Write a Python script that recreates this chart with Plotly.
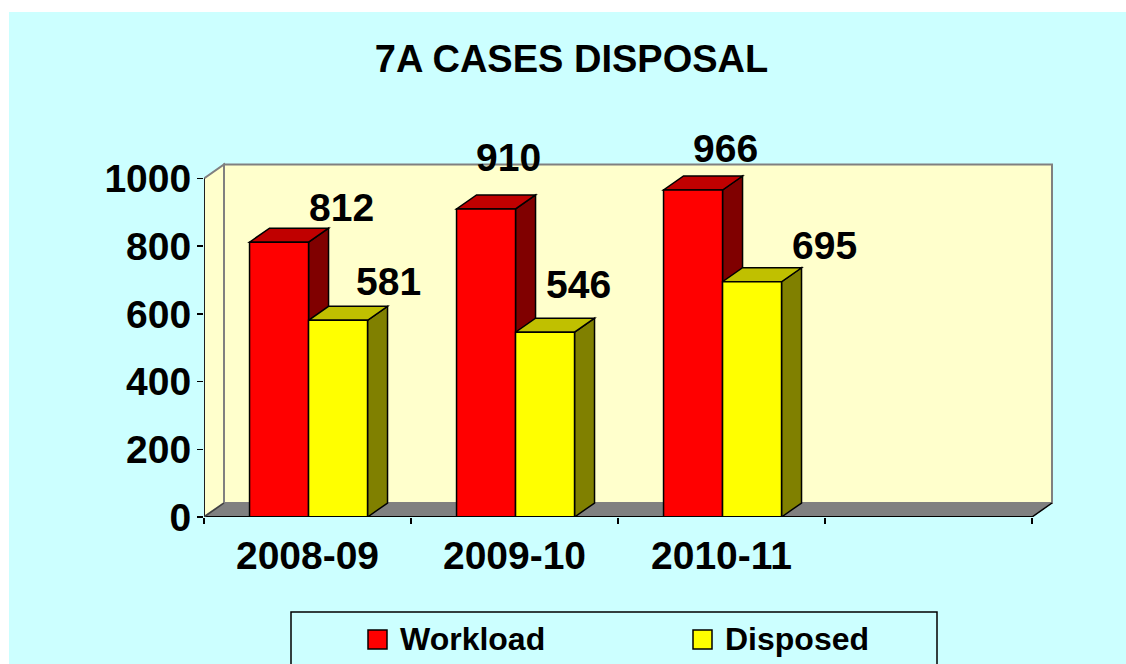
import plotly.graph_objects as go

# ---------------- data ----------------
categories = ["2008-09", "2009-10", "2010-11"]
workload = [812, 910, 966]
disposed = [581, 546, 695]
series_names = ["Workload", "Disposed"]
y_ticks = [0, 200, 400, 600, 800, 1000]
title_text = "7A CASES DISPOSAL"

# label pixel shifts (right, up) from bar front-top centre
label_shift_w = [(62, 35), (22, 51), (32, 42)]
label_shift_d = [(50, 39), (33, 48), (72, 36)]

# ---------------- geometry ----------------
W, H = 1126, 664
PL, PR, PT, PB = 204, 1066, 150, 517        # plot area in px
CAT_PX = 207.0                               # px per category slot
Y_PX = 0.3385                                # px per value unit
N_SLOTS = 4
X0 = -0.5
XR = [X0, X0 + (PR - PL) / CAT_PX]
YR = [0, (PB - PT) / Y_PX]
DX = 20 / CAT_PX                             # depth offset in data units
DY = 14 / Y_PX
YMAX = 1000
XEND = X0 + N_SLOTS

BAR_W = 0.285
OFF_W = -0.28
OFF_D = 0.005

RED, RED_TOP, RED_SIDE = "#FF0000", "#C00000", "#800000"
YEL, YEL_TOP, YEL_SIDE = "#FFFF00", "#C0C000", "#808000"
WALL, WALL_LINE, FLOOR = "#FFFFCC", "#808080", "#808080"
BG = "#CCFFFF"
FONT = "Liberation Sans, Arial, sans-serif"
LABEL_SIZE = 39


def px_x(px):
    return (px - PL) / (PR - PL)


def px_y(py):
    return (PB - py) / (PB - PT)


def poly(pts):
    return "M " + " L ".join(f"{x},{y}" for x, y in pts) + " Z"


shapes = []
# white page margins
shapes.append(dict(type="rect", xref="paper", yref="paper", x0=px_x(-5), x1=px_x(W + 5),
                   y0=px_y(-5), y1=px_y(12), fillcolor="white", line_width=0, layer="below"))
shapes.append(dict(type="rect", xref="paper", yref="paper", x0=px_x(-5), x1=px_x(9),
                   y0=px_y(-5), y1=px_y(H + 5), fillcolor="white", line_width=0, layer="below"))

# back wall
shapes.append(dict(type="path", xref="x", yref="y", layer="below",
                   path=poly([(X0 + DX, DY), (XEND + DX, DY), (XEND + DX, YMAX + DY), (X0 + DX, YMAX + DY)]),
                   fillcolor=WALL, line=dict(color=WALL_LINE, width=2)))
# side wall
shapes.append(dict(type="path", xref="x", yref="y", layer="below",
                   path=poly([(X0, 0), (X0, YMAX), (X0 + DX, YMAX + DY), (X0 + DX, DY)]),
                   fillcolor=WALL, line=dict(color=WALL_LINE, width=2)))
# floor
shapes.append(dict(type="path", xref="x", yref="y", layer="below",
                   path=poly([(X0, 0), (XEND, 0), (XEND + DX, DY), (X0 + DX, DY)]),
                   fillcolor=FLOOR, line=dict(color=FLOOR, width=1)))

# 3D faces of bars (side + top)
for i in range(len(categories)):
    for vals, off, top_c, side_c in ((workload, OFF_W, RED_TOP, RED_SIDE),
                                     (disposed, OFF_D, YEL_TOP, YEL_SIDE)):
        v = vals[i]
        x0 = i + off
        x1 = x0 + BAR_W
        shapes.append(dict(type="path", xref="x", yref="y", layer="below",
                           path=poly([(x1, 0), (x1, v), (x1 + DX, v + DY), (x1 + DX, DY)]),
                           fillcolor=side_c, line=dict(color="black", width=1.5)))
        shapes.append(dict(type="path", xref="x", yref="y", layer="below",
                           path=poly([(x0, v), (x1, v), (x1 + DX, v + DY), (x0 + DX, v + DY)]),
                           fillcolor=top_c, line=dict(color="black", width=1.5)))

# axis lines
shapes.append(dict(type="line", xref="x", yref="y", x0=X0, x1=X0, y0=0, y1=YMAX,
                   line=dict(color="black", width=1.5)))
shapes.append(dict(type="line", xref="x", yref="y", x0=X0, x1=XEND, y0=0, y1=0,
                   line=dict(color="black", width=2)))
shapes.append(dict(type="line", xref="x", yref="y", x0=XEND, x1=XEND + DX, y0=0, y1=DY,
                   line=dict(color="black", width=1.5)))
shapes.append(dict(type="line", xref="x", yref="y", x0=X0, x1=X0 + DX, y0=0, y1=DY,
                   line=dict(color="#404040", width=1.5)))

# manual legend
shapes.append(dict(type="rect", xref="paper", yref="paper", x0=px_x(291), x1=px_x(937),
                   y0=px_y(700), y1=px_y(612), line=dict(color="black", width=1.5)))
legend_items = [(series_names[0], RED, 368, 398), (series_names[1], YEL, 693, 723)]
annotations = []
for name, col, sx, tx in legend_items:
    shapes.append(dict(type="rect", xref="paper", yref="paper", x0=px_x(sx), x1=px_x(sx + 19),
                       y0=px_y(649), y1=px_y(630), fillcolor=col, line=dict(color="black", width=1.5)))
    annotations.append(dict(xref="paper", yref="paper", x=px_x(tx), y=px_y(639), text=name,
                            showarrow=False, xanchor="left", yanchor="middle",
                            font=dict(family=FONT, size=32, color="black", weight="bold")))

fig = go.Figure()
xs = list(range(len(categories)))
fig.add_trace(go.Bar(x=xs, y=workload, name=series_names[0], width=BAR_W, offset=OFF_W,
                     marker=dict(color=RED, line=dict(color="black", width=1.5)), showlegend=False))
fig.add_trace(go.Bar(x=xs, y=disposed, name=series_names[1], width=BAR_W, offset=OFF_D,
                     marker=dict(color=YEL, line=dict(color="black", width=1.5)), showlegend=False))

# data labels
for i in range(len(categories)):
    for vals, off, shifts in ((workload, OFF_W, label_shift_w), (disposed, OFF_D, label_shift_d)):
        annotations.append(dict(x=i + off + BAR_W / 2, y=vals[i], xref="x", yref="y",
                                text=str(vals[i]), showarrow=False,
                                xanchor="center", yanchor="middle",
                                xshift=shifts[i][0], yshift=shifts[i][1],
                                font=dict(family=FONT, size=LABEL_SIZE, color="black", weight="bold")))

fig.update_layout(
    width=W, height=H,
    margin=dict(l=PL, r=W - PR, t=PT, b=H - PB, pad=0),
    paper_bgcolor=BG, plot_bgcolor="rgba(0,0,0,0)",
    showlegend=False,
    bargap=0,
    title=dict(text=title_text, x=571.5 / W, xanchor="center", xref="container",
               y=1 - 59 / H, yanchor="middle", yref="container",
               font=dict(family=FONT, size=38, color="black", weight="bold")),
    xaxis=dict(range=XR, tickmode="array", tickvals=xs, ticktext=categories,
               ticks="", showgrid=False, zeroline=False, showline=False,
               tickfont=dict(family=FONT, size=LABEL_SIZE, color="black", weight="bold"),
               ticklabelstandoff=12,
               minor=dict(tickmode="array", tickvals=[X0 + k for k in range(N_SLOTS + 1)],
                          ticks="outside", ticklen=6, tickwidth=1.5, tickcolor="black",
                          showgrid=False)),
    yaxis=dict(range=YR, tickmode="array", tickvals=y_ticks,
               ticks="outside", ticklen=6, tickwidth=1.5, tickcolor="black",
               showgrid=False, zeroline=False, showline=False,
               tickfont=dict(family=FONT, size=LABEL_SIZE, color="black", weight="bold"),
               ticklabelstandoff=-2),
    shapes=shapes,
    annotations=annotations,
)

fig.write_html("out.html",
               config={"displayModeBar": False, "staticPlot": True},
               post_script=("document.body.style.margin='0';"
                            "document.body.style.overflow='hidden';"
                            "document.documentElement.style.overflow='hidden';"
                            "document.body.style.background='" + BG + "';"
                            "document.documentElement.style.background='" + BG + "';"))
